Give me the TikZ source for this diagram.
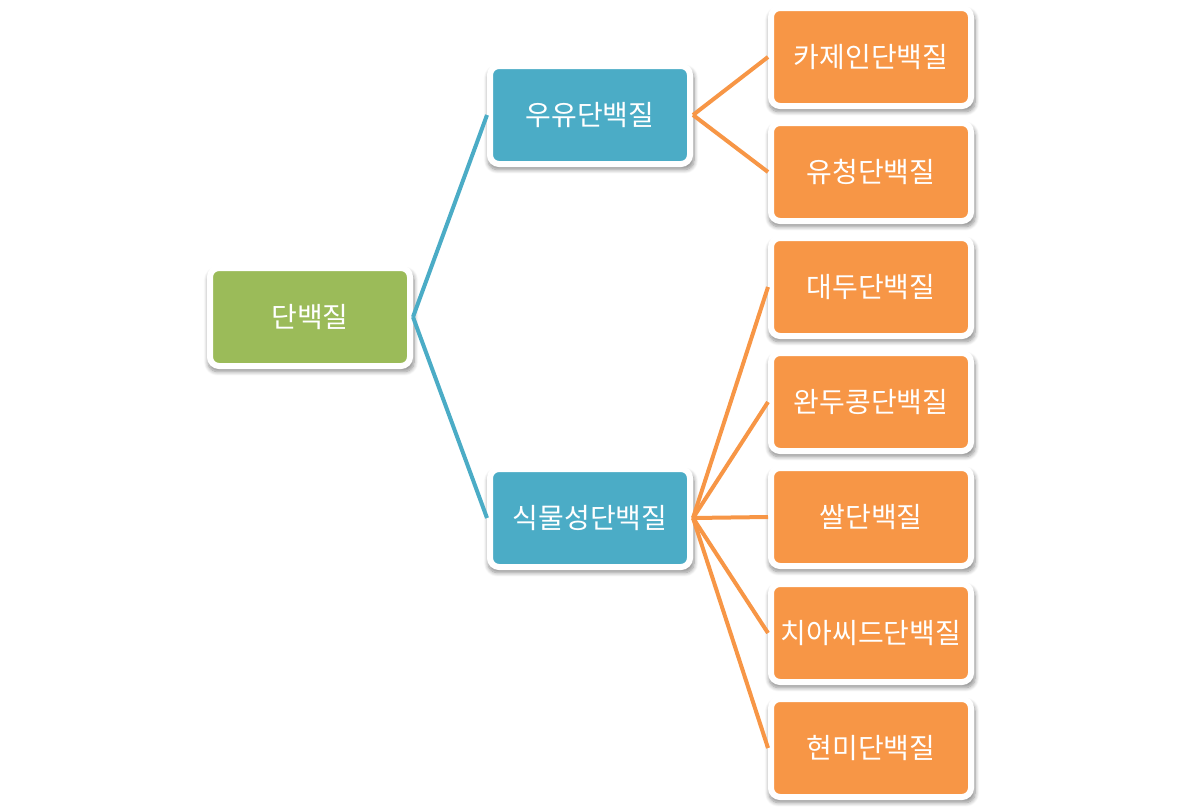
\documentclass[tikz,border=0pt]{standalone}
\usepackage{fontspec}
\setmainfont{Noto Sans CJK KR}
\usetikzlibrary{shadows.blur}

\definecolor{rootgreen}{HTML}{9BBB59}
\definecolor{midblue}{HTML}{4BACC6}
\definecolor{leaforange}{HTML}{F79646}

\tikzset{
  box/.style={rectangle, rounded corners=9pt, draw=white, line width=6pt,
    minimum width=200pt, minimum height=98pt, inner sep=0pt,
    text=white, font=\fontsize{28}{32}\selectfont,
    blur shadow={shadow xshift=1pt, shadow yshift=-4pt, shadow scale=1.03,
      shadow blur radius=4pt, shadow blur steps=8, shadow opacity=45}},
  rootbox/.style={box, fill=rootgreen},
  midbox/.style={box, fill=midblue},
  leafbox/.style={box, fill=leaforange},
  midline/.style={draw=midblue, line width=4pt},
  leafline/.style={draw=leaforange, line width=4pt}
}

\begin{document}
\begin{tikzpicture}[x=1pt,y=-1pt]
  \useasboundingbox (0,0) rectangle (1181,811);

  \node[rootbox] (P) at (310, 317) {단백질};

  \node[midbox] (M) at (590, 115) {우유단백질};
  \node[midbox] (V) at (590, 518) {식물성단백질};

  \node[leafbox] (M1) at (871, 57) {카제인단백질};
  \node[leafbox] (M2) at (871, 172) {유청단백질};
  \node[leafbox] (V1) at (871, 287) {대두단백질};
  \node[leafbox] (V2) at (871, 402) {완두콩단백질};
  \node[leafbox] (V3) at (871, 517) {쌀단백질};
  \node[leafbox] (V4) at (871, 633) {치아씨드단백질};
  \node[leafbox] (V5) at (871, 748) {현미단백질};

  \draw[midline] (P.east) -- (M.west);
  \draw[midline] (P.east) -- (V.west);
  \draw[leafline] (M.east) -- (M1.west);
  \draw[leafline] (M.east) -- (M2.west);
  \foreach \n in {V1,V2,V3,V4,V5}
    \draw[leafline] (V.east) -- (\n.west);
\end{tikzpicture}
\end{document}
